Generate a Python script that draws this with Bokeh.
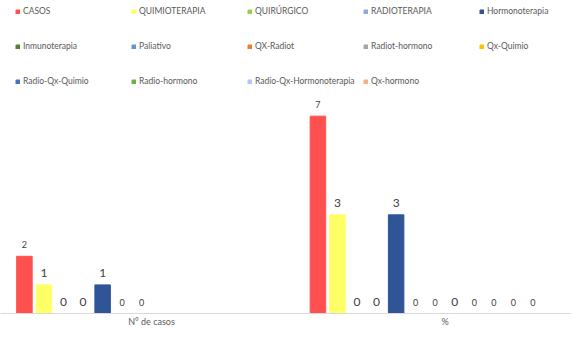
import numpy as np
from bokeh.plotting import figure
from bokeh.models import ColumnDataSource, Range1d, Legend, LegendItem, FixedTicker
from bokeh.transform import dodge
from bokeh.core.properties import value
from bokeh.embed import file_html
from bokeh.resources import INLINE

categories = ["N° de casos", "%"]
series = ["CASOS", "QUIMIOTERAPIA", "QUIRÚRGICO", "RADIOTERAPIA", "Hormonoterapia",
          "Inmunoterapia", "Paliativo", "QX-Radiot", "Radiot-hormono", "Qx-Quimio",
          "Radio-Qx-Quimio", "Radio-hormono", "Radio-Qx-Hormonoterapia", "Qx-hormono"]
n_casos = [2, 1, 0, 0, 1, 0, 0, None, None, None, None, None, None, None]
porcentaje = [6.9, 3.45, 0, 0, 3.45, 0, 0, 0, 0, 0, 0, 0, None, None]
colors = ["#FF5050", "#FFFF66", "#92D050", "#8EA9DB", "#2F5597", "#548235", "#5B9BD5",
          "#ED7D31", "#A5A5A5", "#FFC000", "#4472C4", "#70AD47", "#B4C7E7", "#F4B183"]
label_sizes = ["9px", "12px", "12px", "12px", "12px", "9px", "9px", "12px",
               "9px", "9px", "9px", "9px", "9px", "9px"]

FONT = "Lato"
W, H = 571, 329
frame_h = 313
px_per_cat = 293.5
px_per_unit = 28.6
slot = 19.55 / px_per_cat
bar_w = 15.5 / px_per_cat

x0 = -4.25 / px_per_cat
x1 = x0 + W / px_per_cat

p = figure(width=W, height=H, output_backend="svg", toolbar_location=None,
           x_range=Range1d(x0, x1), y_range=Range1d(0, frame_h / px_per_unit),
           min_border_left=0, min_border_right=0, min_border_top=0,
           min_border_bottom=H - frame_h)
p.outline_line_color = None
p.xgrid.visible = False
p.ygrid.visible = False
p.yaxis.visible = False

cat_x = list(np.arange(len(categories)) + 0.5)
n = len(series)
renderers = []
for i, name in enumerate(series):
    vals = [n_casos[i], porcentaje[i]]
    tops = [np.nan if v is None else v for v in vals]
    src = ColumnDataSource(dict(x=cat_x, top=tops))
    off = (i - (n - 1) / 2) * slot
    r = p.vbar(x=dodge("x", off, range=p.x_range), top="top", width=bar_w, bottom=0,
               source=src, fill_color=colors[i], line_color=colors[i])
    renderers.append(r)
    lx = [cx for cx, v in zip(cat_x, vals) if v is not None]
    ly = [v for v in vals if v is not None]
    lt = [f"{v:.0f}" for v in vals if v is not None]
    if lx:
        lsrc = ColumnDataSource(dict(x=lx, y=ly, t=lt))
        p.text(x=dodge("x", off, range=p.x_range), y="y", text="t", source=lsrc,
               text_align="center", text_baseline="middle", y_offset=-11.5,
               text_font=value(FONT), text_font_size=label_sizes[i],
               text_color="#404040")

# Legend: three rows of five items
row_centers = [11, 46, 81]  # frame-relative from top
lh = 12
for row in range(3):
    items = []
    for j in range(5):
        k = row * 5 + j
        if k < n:
            items.append(LegendItem(label=series[k], renderers=[renderers[k]]))
    t = row_centers[row]
    leg = Legend(items=items, orientation="horizontal",
                 location=(15, frame_h - t - lh / 2),
                 padding=0, margin=0, spacing=8, border_line_color=None,
                 background_fill_alpha=0, glyph_width=5, glyph_height=5,
                 label_standoff=3, label_width=100, label_height=lh,
                 label_text_font=FONT, label_text_font_size="8.5px",
                 label_text_color="#595959", click_policy="none")
    p.add_layout(leg)

xa = p.xaxis[0]
xa.ticker = FixedTicker(ticks=cat_x)
xa.major_label_overrides = {cx: c for cx, c in zip(cat_x, categories)}
xa.axis_line_color = "#D9D9D9"
xa.major_tick_line_color = None
xa.minor_tick_line_color = None
xa.major_tick_out = 0
xa.major_tick_in = 0
xa.minor_tick_out = 0
xa.minor_tick_in = 0
xa.major_label_standoff = 2
xa.major_label_text_font = FONT
xa.major_label_text_font_size = "9px"
xa.major_label_text_color = "#595959"

open("out.html", "w").write(file_html(p, INLINE))
